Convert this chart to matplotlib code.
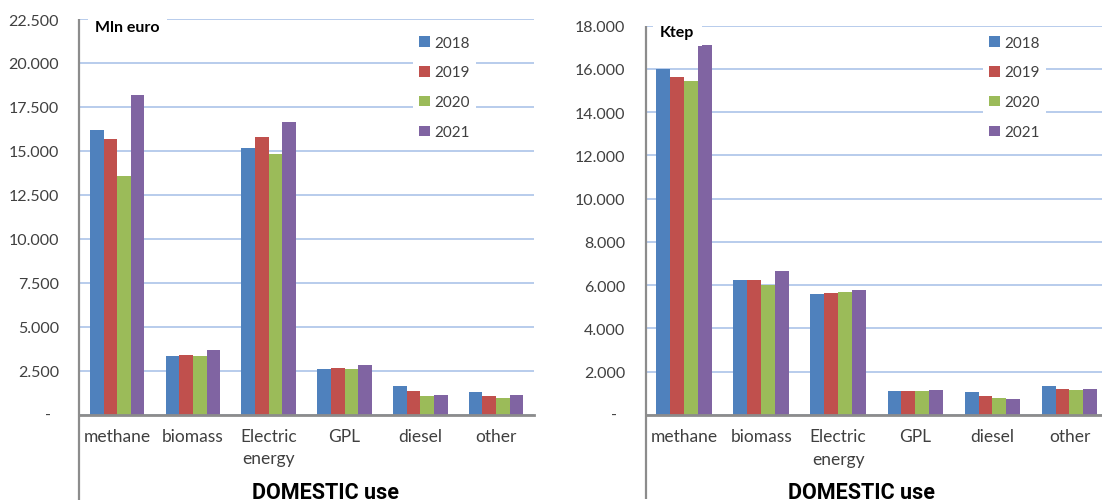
import matplotlib
matplotlib.use("Agg")
import matplotlib.pyplot as plt
import numpy as np
from matplotlib.patches import Patch
from matplotlib.ticker import FixedLocator, FuncFormatter
from matplotlib.transforms import offset_copy

plt.rcParams["font.family"] = ["Lato", "DejaVu Sans"]

categories = ["methane", "biomass", "Electric\nenergy", "GPL", "diesel", "other"]
years = ["2018", "2019", "2020", "2021"]
colors = ["#4F81BD", "#C0504D", "#9BBB59", "#8064A2"]

# Domestic energy spending (million euro)
euro_2018 = [16200, 3330, 15150, 2620, 1650, 1300]
euro_2019 = [15650, 3390, 15800, 2650, 1320, 1040]
euro_2020 = [13600, 3310, 14800, 2610, 1060, 930]
euro_2021 = [18200, 3690, 16650, 2800, 1100, 1100]

# Domestic energy consumption (ktep)
ktep_2018 = [16000, 6220, 5580, 1110, 1060, 1355]
ktep_2019 = [15620, 6220, 5620, 1110, 860, 1185]
ktep_2020 = [15440, 6010, 5670, 1095, 785, 1155]
ktep_2021 = [17100, 6640, 5760, 1155, 740, 1185]

euro_ticks = np.arange(0, 22501, 2500)
ktep_ticks = np.arange(0, 18001, 2000)

W, H = 1102, 502
fig = plt.figure(figsize=(W / 100, H / 100), dpi=100)
fig.patch.set_facecolor("white")

TXT = "#404040"
GRID = "#B8CCEC"
AXIS = "#8C8C8C"


def px_rect(x0, x1, ytop, ybot):
    return [x0 / W, 1 - ybot / H, (x1 - x0) / W, (ybot - ytop) / H]


def thousands(v, pos=None):
    if v == 0:
        return ""
    return f"{v:,.0f}".replace(",", ".")


def draw_panel(rect, series, ticks, unit, legend_px, unit_px, title_px):
    ax = fig.add_axes(rect)
    x = np.arange(len(categories))
    width = 0.18
    offsets = (np.arange(len(series)) - (len(series) - 1) / 2) * width
    for vals, off, col, yr in zip(series, offsets, colors, years):
        ax.bar(x + off, vals, width, color=col, label=yr, zorder=3,
               edgecolor="none")

    ax.set_xlim(-0.5, len(categories) - 0.5)
    ax.set_ylim(ticks[0], ticks[-1])
    ax.yaxis.set_major_locator(FixedLocator(ticks))
    ax.yaxis.set_major_formatter(FuncFormatter(thousands))
    ax.set_xticks(x)
    ax.set_xticklabels(categories, fontsize=12.5, color=TXT, linespacing=1.5)
    ax.tick_params(axis="x", length=0, pad=9.5)
    ax.tick_params(axis="y", length=0, pad=14.5, labelsize=11.5,
                   labelcolor=TXT)

    ax.grid(axis="y", color=GRID, linewidth=1.4, zorder=0)
    ax.set_axisbelow(True)
    for s in ("top", "right", "left"):
        ax.spines[s].set_visible(False)
    ax.spines["bottom"].set_color(AXIS)
    ax.spines["bottom"].set_linewidth(2)
    ax.spines["bottom"].set_zorder(4)

    # vertical axis line running down past the category labels
    ax.plot([0, 0], [-0.215, 1], transform=ax.transAxes, color=AXIS,
            linewidth=1.6, clip_on=False, zorder=5, solid_capstyle="butt")

    # accounting-style dash for zero
    ax.text(0, 0, "-", transform=offset_copy(ax.get_yaxis_transform(), fig,
                                             x=-28, y=0, units="dots"),
            ha="right", va="center", fontsize=11.5, color=TXT)

    # unit label on a white box over the top gridline
    ux, uy = unit_px
    fig.text(ux / W, 1 - uy / H, unit, fontsize=11.5, fontweight="bold",
             color="black", ha="left", va="center",
             bbox=dict(boxstyle="square,pad=0.45", facecolor="white",
                       edgecolor="none"), zorder=6)

    handles = [Patch(facecolor=c, edgecolor="none") for c in colors]
    lx, ly = legend_px
    leg = ax.legend(handles, years, loc="upper left",
                    bbox_to_anchor=(lx / W, 1 - ly / H),
                    bbox_transform=fig.transFigure, borderaxespad=0,
                    frameon=True, fancybox=False, fontsize=11,
                    handlelength=0.7, handleheight=0.7, handletextpad=0.27,
                    labelspacing=1.04, borderpad=0.4)
    leg.get_frame().set_facecolor("white")
    leg.get_frame().set_edgecolor("none")
    leg.get_frame().set_alpha(1)
    for t in leg.get_texts():
        t.set_color(TXT)

    tx, ty = title_px
    fig.text(tx / W, 1 - ty / H, "DOMESTIC use", fontsize=15.5,
             fontweight="bold", family=["Roboto", "DejaVu Sans"],
             color="black", ha="center", va="center")
    return ax


draw_panel(px_rect(79.3, 534.0, 20.0, 415.7),
           [euro_2018, euro_2019, euro_2020, euro_2021], euro_ticks,
           "Mln euro", (413, 30.5), (95, 27.5), (326, 493))
draw_panel(px_rect(645.5, 1108.0, 26.7, 416.0),
           [ktep_2018, ktep_2019, ktep_2020, ktep_2021], ktep_ticks,
           "Ktep", (983, 30.5), (660, 33), (862, 493))

fig.savefig("out.png", dpi=100, facecolor="white")
